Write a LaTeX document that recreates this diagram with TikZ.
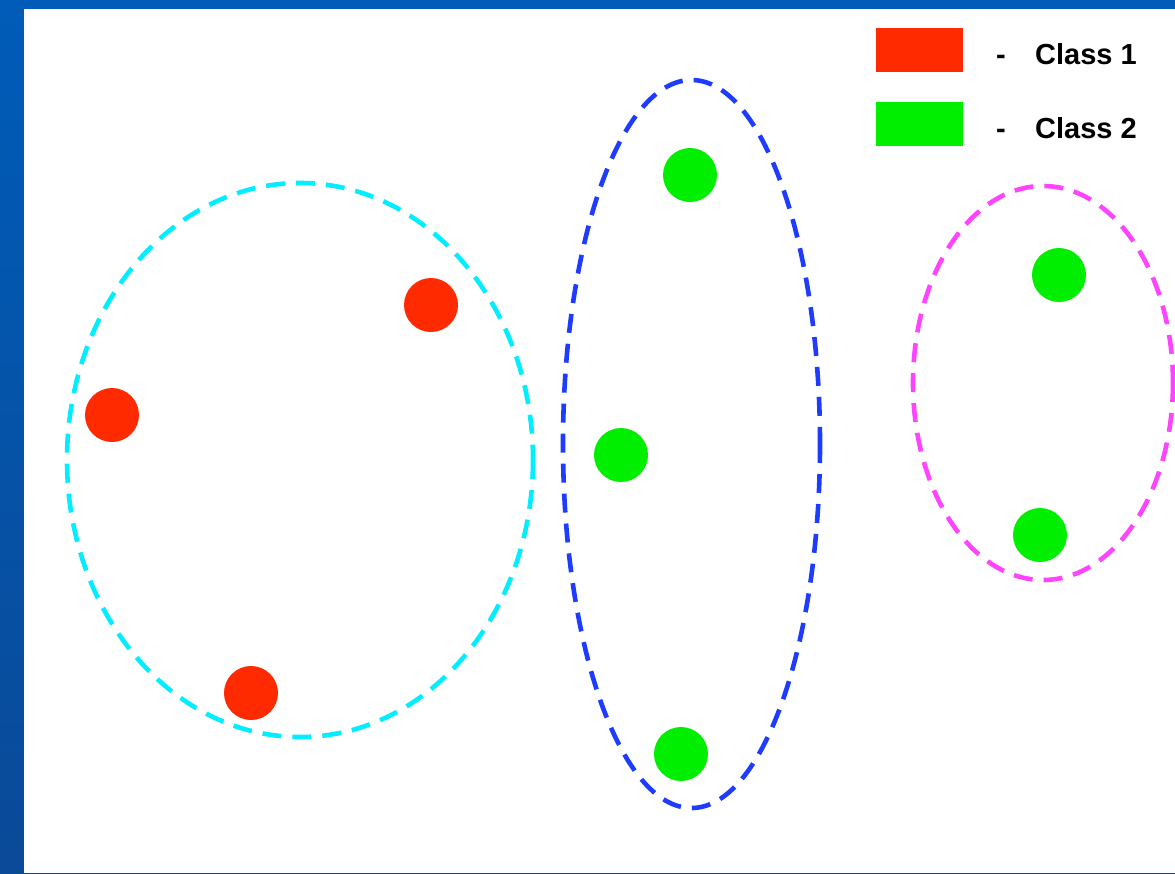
\documentclass[tikz,border=0pt]{standalone}
\usepackage{fontspec}
\setmainfont{Liberation Sans}
\begin{document}
\begin{tikzpicture}[x=1pt,y=-1pt,
  ring/.style={line width=4.6pt,dash pattern=on 19pt off 11pt},
  dot/.style={circle,inner sep=0pt,minimum size=54pt,draw=none},
  classdot/.style={dot,fill=c1red},
  greendot/.style={dot,fill=c2green},
  legbox/.style={inner sep=0pt,minimum width=87pt,minimum height=44pt,draw=none},
  legtext/.style={anchor=base west,inner sep=0pt,font=\fontsize{29}{32}\selectfont\bfseries},
  legdash/.style={anchor=base,inner sep=0pt,font=\fontsize{29}{32}\selectfont\bfseries}]
\definecolor{bgtop}{HTML}{005CB8}
\definecolor{bgbot}{HTML}{0A4A98}
\definecolor{c1red}{HTML}{FF2A00}
\definecolor{c2green}{HTML}{00EE00}
\definecolor{ringcyan}{HTML}{00EEFF}
\definecolor{ringblue}{HTML}{1E3CFF}
\definecolor{ringmag}{HTML}{FF44FF}
\useasboundingbox (0,0) rectangle (1175,873);
\shade[top color=bgtop,bottom color=bgbot] (0,0) rectangle (1175,873);
\fill[white] (24,9) rectangle (1175,873);
% cluster rings
\draw[ring,ringcyan] (300,460) ellipse [x radius=233,y radius=277];
\draw[ring,ringblue] (691.5,444) ellipse [x radius=128.5,y radius=364];
\draw[ring,ringmag] (1043,383) ellipse [x radius=130,y radius=197];
% class 1 points
\node[classdot] (r1) at (431,305) {};
\node[classdot] (r2) at (112,415) {};
\node[classdot] (r3) at (251,693) {};
% class 2 points
\node[greendot] (g1) at (690,175) {};
\node[greendot] (g2) at (621,455) {};
\node[greendot] (g3) at (681,754) {};
\node[greendot] (g4) at (1059,275) {};
\node[greendot] (g5) at (1040,535) {};
% legend
\node[legbox,fill=c1red] (l1) at (919.5,50) {};
\node[legbox,fill=c2green] (l2) at (919.5,124) {};
\node[legdash] (d1) at (1001,64) {-};
\node[legdash] (d2) at (1001,138) {-};
\node[legtext] (t1) at (1035,64) {Class 1};
\node[legtext] (t2) at (1035,138) {Class 2};
\end{tikzpicture}
\end{document}
